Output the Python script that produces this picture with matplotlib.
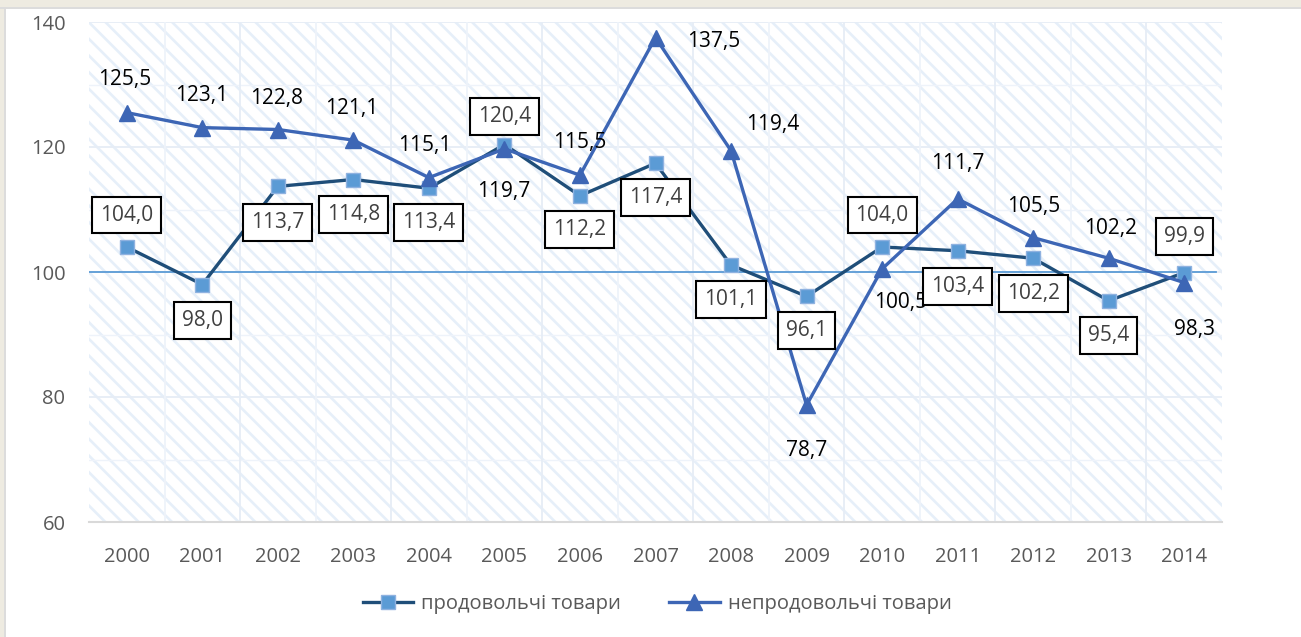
import numpy as np
import matplotlib.pyplot as plt
from matplotlib.patches import Rectangle

# Data
years = ['2000', '2001', '2002', '2003', '2004', '2005', '2006', '2007',
         '2008', '2009', '2010', '2011', '2012', '2013', '2014']
food = [104.0, 98.0, 113.7, 114.8, 113.4, 120.4, 112.2, 117.4,
        101.1, 96.1, 104.0, 103.4, 102.2, 95.4, 99.9]
nonfood = [125.5, 123.1, 122.8, 121.1, 115.1, 119.7, 115.5, 137.5,
           119.4, 78.7, 100.5, 111.7, 105.5, 102.2, 98.3]
food_name = 'продовольчі товари'
nonfood_name = 'непродовольчі товари'

# label offsets in pixels (dx, dy)
food_off = [(0, 32), (0, -36), (0, -36), (0, -35), (0, -34), (0, 28), (0, -34), (0, -34),
            (0, -34), (0, -34), (0, 32), (0, -36), (0, -35), (0, -35), (0, 36)]
nonfood_off = [(-2, 33), (-1, 32), (-1, 31), (-2, 32), (-4, 32), (-1, -43), (0, 33), (58, -4),
               (42, 26), (0, -45), (19, -34), (0, 35), (1, 31), (2, 30), (10, -47)]

plt.rcParams['font.family'] = ['Open Sans', 'DejaVu Sans']
plt.rcParams['hatch.linewidth'] = 1.9

fig = plt.figure(figsize=(13.01, 6.37), dpi=100)
ax = fig.add_axes([89/1301, 1-522/637, (1222-89)/1301, 500/637])

# frame strips of the screenshot
fig.patches.append(Rectangle((0, 1-7/637), 1, 7/637, transform=fig.transFigure,
                             facecolor='#eeebe1', edgecolor='none', zorder=-5))
fig.patches.append(Rectangle((0, 0), 4/1301, 1, transform=fig.transFigure,
                             facecolor='#eeebe1', edgecolor='none', zorder=-5))
fig.patches.append(Rectangle((4/1301, 0), 1.5/1301, 1-7/637, transform=fig.transFigure,
                             facecolor='#dcdcdc', edgecolor='none', zorder=-5))
fig.patches.append(Rectangle((0, 1-8.5/637), 1, 1.5/637, transform=fig.transFigure,
                             facecolor='#dcdcdc', edgecolor='none', zorder=-5))

x = np.arange(len(years))

# hatched background
ax.add_patch(Rectangle((0, 0), 1, 1, transform=ax.transAxes, facecolor='white',
                       edgecolor='#e6eff9', hatch='\\\\', lw=0, zorder=0))

# grid
for v in [70, 90, 110, 130]:
    ax.axhline(v, color='#eef3fa', lw=1, zorder=0.5)
for v in [80, 100, 120, 140]:
    ax.axhline(v, color='#e6edf6', lw=1.3, zorder=0.5)
for i in range(len(years) - 1):
    c = '#e6edf6' if i % 2 == 1 else '#eef3fa'
    ax.axvline(i + 0.5, color=c, lw=1.3, zorder=0.5)

ax.axhline(100, xmin=0, xmax=0.995, color='#5b9bd5', lw=1.3, zorder=2)

ax.plot(x, food, color='#1f4e79', lw=2.4, marker='s', markersize=10,
        markerfacecolor='#5b9bd5', markeredgecolor='#8fb2e0', markeredgewidth=1,
        label=food_name, zorder=3)
ax.plot(x, nonfood, color='#3d66b5', lw=2.4, marker='^', markersize=11,
        markerfacecolor='#3d66b5', markeredgecolor='#3d66b5',
        label=nonfood_name, zorder=4)

for i, v in enumerate(nonfood):
    ax.annotate(f'{v:.1f}'.replace('.', ','), (x[i], v), xytext=nonfood_off[i],
                textcoords='offset pixels', ha='center', va='center',
                fontsize=15, color='black', zorder=6)
for i, v in enumerate(food):
    ax.annotate(f'{v:.1f}'.replace('.', ','), (x[i], v), xytext=food_off[i],
                textcoords='offset pixels', ha='center', va='center',
                fontsize=15, color='#404040', zorder=7,
                bbox=dict(boxstyle='square,pad=0.38', facecolor='white',
                          edgecolor='black', lw=1.5))

ax.set_xlim(-0.5, 14.5)
ax.set_ylim(60, 140)
ax.set_yticks([60, 80, 100, 120, 140])
ax.set_xticks(x)
ax.set_xticklabels(years)
ax.tick_params(axis='both', length=0, labelsize=14.5, labelcolor='#595959')
ax.tick_params(axis='y', pad=17)
ax.tick_params(axis='x', pad=18)
for s in ['top', 'right', 'left']:
    ax.spines[s].set_visible(False)
ax.spines['bottom'].set_color('#d9d9d9')
ax.spines['bottom'].set_linewidth(1.5)
ax.spines['bottom'].set_zorder(5)

leg = fig.legend(loc='center', bbox_to_anchor=(657/1301, 1-604/637), ncol=2,
                 frameon=False, fontsize=14.5, handlelength=2.5, columnspacing=2.4,
                 handletextpad=0.4)
for t in leg.get_texts():
    t.set_color('#595959')

fig.savefig('out.png', dpi=100)
